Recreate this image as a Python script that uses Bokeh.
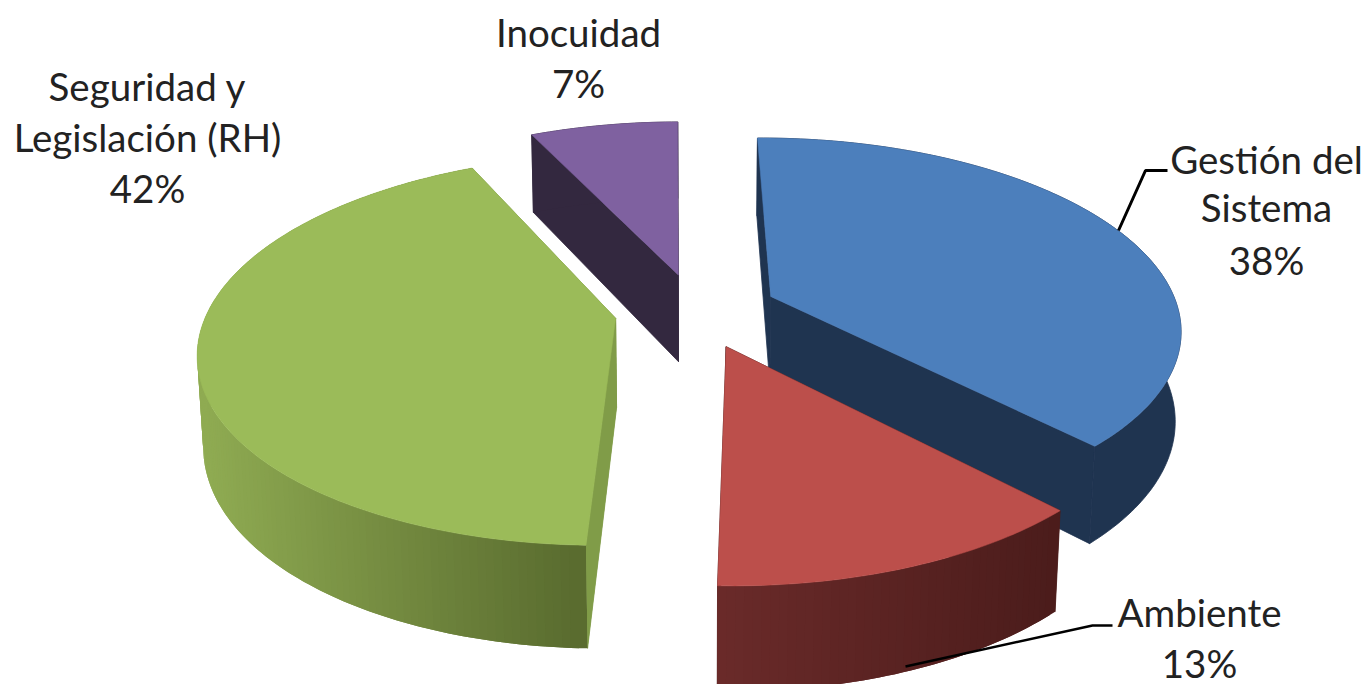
import math
from bokeh.plotting import figure
from bokeh.models import Range1d, ColumnDataSource
from bokeh.core.properties import value
from bokeh.embed import file_html
from bokeh.resources import INLINE

# ---- data ----
categories = ["Gestión del Sistema", "Ambiente", "Seguridad y Legislación (RH)", "Inocuidad"]
shares = [38.0, 12.6, 42.49, 6.91]
label_lines = [["Gestión del", "Sistema"], ["Ambiente"], ["Seguridad y", "Legislación (RH)"], ["Inocuidad"]]

# ---- style ----
top_colors = ["#4c7fbc", "#bc4f4b", "#9bbb59", "#7f61a0"]
cut_colors = ["#1f3450", "#4d1e1d", "#809c48", "#33283f"]
wall_left = ["#1f3450", "#6b2b2a", "#8fab52", "#33283f"]
wall_right = ["#1f3450", "#4b1c1b", "#586a2e", "#33283f"]
wall_span = [(760, 1190), (715, 1065), (205, 592), (530, 685)]
draw_order = [3, 0, 2, 1]
START_DEG = -0.5
CX, CY, R, A, K, EXPLODE = 695.5, 310.0, 408.0, 188.0, 0.16, 0.2
DEPTH_Y, DEPTH_K = 90.0, 0.012
label_pos = [(1266, (158, 206, 259)), (1199, (611, 662)), (147, (85, 136, 187)), (578, (31, 82))]
FONT, FONT_PX = "Lato", "38.5px"


def project(U, V, bottom=False):
    d = 1 + K * V + (DEPTH_K if bottom else 0)
    dy = DEPTH_Y if bottom else 0
    return CX + R * U / d, CY - (A * V - dy) / d


def mix(c1, c2, t):
    t = max(0, min(1, t))
    a = [int(c1[i:i + 2], 16) for i in (1, 3, 5)]
    b = [int(c2[i:i + 2], 16) for i in (1, 3, 5)]
    return "#%02x%02x%02x" % tuple(round(p + (q - p) * t) for p, q in zip(a, b))


p = figure(width=1371, height=684, output_backend="svg", toolbar_location=None,
           x_range=Range1d(0, 1371), y_range=Range1d(684, 0), min_border=0)
p.axis.visible = False
p.grid.visible = False
p.outline_line_color = None
p.background_fill_color = "white"
p.border_fill_color = "white"

total = sum(shares)
starts, a0 = [], START_DEG
for s in shares:
    starts.append(a0)
    a0 += 360.0 * s / total

for i in draw_order:
    th0 = starts[i]
    th1 = th0 + 360.0 * shares[i] / total
    mid = math.radians((th0 + th1) / 2)
    ex, ey = EXPLODE * math.sin(mid), EXPLODE * math.cos(mid)
    n = max(8, int((th1 - th0) / 1.0))
    ring = [(ex + math.sin(math.radians(th0 + (th1 - th0) * j / n)),
             ey + math.cos(math.radians(th0 + (th1 - th0) * j / n))) for j in range(n + 1)]
    top = [project(u, v) for u, v in ring]
    bot = [project(u, v, True) for u, v in ring]
    apex_t = project(ex, ey)
    apex_b = project(ex, ey, True)
    xs, ys, cols = [], [], []
    for t, b in ((top[-1], bot[-1]), (top[0], bot[0])):
        q = [apex_t, t, b, apex_b]
        xs.append([c[0] for c in q])
        ys.append([c[1] for c in q])
        cols.append(cut_colors[i])
    p.patches("x", "y", source=ColumnDataSource(dict(x=xs, y=ys, c=cols)),
              fill_color="c", line_color="c", line_width=0.8)
    # outer wall: overlapping strips so no seams show between them
    x0, x1 = wall_span[i]
    xs, ys, cols = [], [], []
    rising = top[n][0] > top[0][0]
    order = range(n) if rising else range(n - 1, -1, -1)
    if wall_left[i] == wall_right[i]:
        q = top + bot[::-1]
        xs.append([c[0] for c in q])
        ys.append([c[1] for c in q])
        cols.append(wall_left[i])
    else:
        for j in order:
            k0, k1 = (max(0, j - 1), j + 1) if rising else (j, min(n, j + 2))
            q = top[k0:k1 + 1] + bot[k0:k1 + 1][::-1]
            xm = (top[j][0] + top[j + 1][0]) / 2
            xs.append([c[0] for c in q])
            ys.append([c[1] for c in q])
            cols.append(mix(wall_left[i], wall_right[i], (xm - x0) / (x1 - x0)))
    p.patches("x", "y", source=ColumnDataSource(dict(x=xs, y=ys, c=cols)),
              fill_color="c", line_color="c" if wall_left[i] == wall_right[i] else None, line_width=0.8)
    if i == 2:
        q = [apex_t, top[0], bot[0], apex_b]
        p.patch([c[0] for c in q], [c[1] for c in q], fill_color=cut_colors[i], line_color=None)
    face = [apex_t] + top
    p.patch([c[0] for c in face], [c[1] for c in face], fill_color=top_colors[i],
            line_color=top_colors[i], line_width=0.5)

# leader lines
p.line([1118, 1145, 1167], [230, 170, 170], line_color="black", line_width=3)
p.line([905, 1092, 1112], [666, 625, 625], line_color="black", line_width=2.5)

# labels
for lines, s, (lx, lys) in zip(label_lines, shares, label_pos):
    for txt, ly in zip(lines + [f"{round(s)}%"], lys):
        p.text([lx], [ly], text=[txt], text_font=value(FONT), text_font_size=FONT_PX,
               text_color="#222222", text_align="center", text_baseline="middle")

open("out.html", "w").write(file_html(p, INLINE))
